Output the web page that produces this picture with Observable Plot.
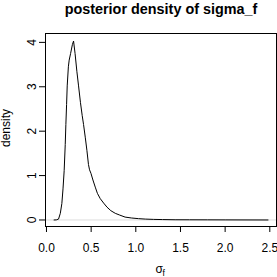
<!DOCTYPE html>
<html>
<head>
<meta charset="utf-8">
<script src="https://cdn.jsdelivr.net/npm/d3@7"></script>
<script src="https://cdn.jsdelivr.net/npm/@observablehq/plot@0.6"></script>
<style>
  html, body { margin: 0; padding: 0; background: #fff; }
</style>
</head>
<body>
<div id="chart"></div>
<script>
const sigma = [0.085, 0.11, 0.135, 0.155, 0.172, 0.185, 0.198, 0.21, 0.217, 0.225, 0.232, 0.245, 0.254, 0.27, 0.29, 0.303, 0.32, 0.34, 0.359, 0.38, 0.40, 0.415, 0.435, 0.453, 0.47, 0.482, 0.498, 0.52, 0.546, 0.57, 0.602, 0.64, 0.677, 0.72, 0.77, 0.82, 0.88, 0.95, 1.03, 1.106, 1.2, 1.3, 1.44, 1.6, 1.8, 2.0, 2.2, 2.48];
const density = [0, 0.002, 0.02, 0.15, 0.37, 0.7, 1.11, 1.7, 2.15, 2.6, 3.02, 3.45, 3.6, 3.75, 3.95, 4.03, 3.75, 3.35, 3.02, 2.65, 2.35, 2.15, 1.85, 1.56, 1.25, 1.13, 1.05, 0.9, 0.74, 0.6, 0.48, 0.38, 0.29, 0.21, 0.15, 0.11, 0.065, 0.045, 0.03, 0.02, 0.013, 0.009, 0.005, 0.004, 0.003, 0.002, 0.001, 0];
const xTicks = [0, 0.5, 1, 1.5, 2, 2.5];
const yTicks = [0, 1, 2, 3, 4];
const titleText = "posterior density of sigma_f";
const yLabel = "density";
const xLabelMain = "σ";
const xLabelSub = "f";

const data = sigma.map((s, i) => ({s, d: density[i]}));

const chart = Plot.plot({
  width: 277,
  height: 277,
  marginLeft: 45,
  marginRight: 1,
  marginTop: 33,
  marginBottom: 51,
  style: {fontFamily: "'Liberation Sans', Arial, Helvetica, sans-serif", fontSize: "12px", background: "#fff", color: "#000"},
  x: {domain: [-0.011, 2.575], axis: null},
  y: {domain: [-0.147, 4.2], axis: null},
  marks: [
    Plot.ruleY([0], {stroke: "#d4d4d4", strokeWidth: 0.8}),
    Plot.line(data, {x: "s", y: "d", stroke: "#000", strokeWidth: 1}),
    Plot.frame({stroke: "#000", strokeWidth: 1}),
    Plot.axisX({ticks: xTicks, tickSize: 6, tickPadding: 10.5, tickFormat: d3.format(".1f"), fontSize: 12, label: null, stroke: "#000"}),
    Plot.axisY({ticks: yTicks, tickSize: 6, tickFormat: () => "", label: null, stroke: "#000"}),
    Plot.text(yTicks, {y: d => d, text: d => String(d), frameAnchor: "left", dx: -13.5, rotate: -90, textAnchor: "middle", lineAnchor: "middle", fontSize: 12, fill: "#000"}),
    Plot.text([yLabel], {text: d => d, frameAnchor: "left", dx: -36, dy: -2, rotate: -90, textAnchor: "middle", lineAnchor: "bottom", fontSize: 12, fill: "#000"}),
    Plot.text([titleText], {text: d => d, frameAnchor: "top", dy: -19.5, lineAnchor: "bottom", textAnchor: "middle", fontSize: 14.4, fontWeight: "bold", fill: "#000"}),
    Plot.text([xLabelMain], {text: d => d, frameAnchor: "bottom", dx: -5.6, dy: 46.8, lineAnchor: "bottom", textAnchor: "start", fontSize: 12, fill: "#000"}),
    Plot.text([xLabelSub], {text: d => d, frameAnchor: "bottom", dx: 1.6, dy: 49, lineAnchor: "bottom", textAnchor: "start", fontSize: 8.5, fill: "#000"})
  ]
});
document.getElementById("chart").appendChild(chart);
</script>
</body>
</html>
